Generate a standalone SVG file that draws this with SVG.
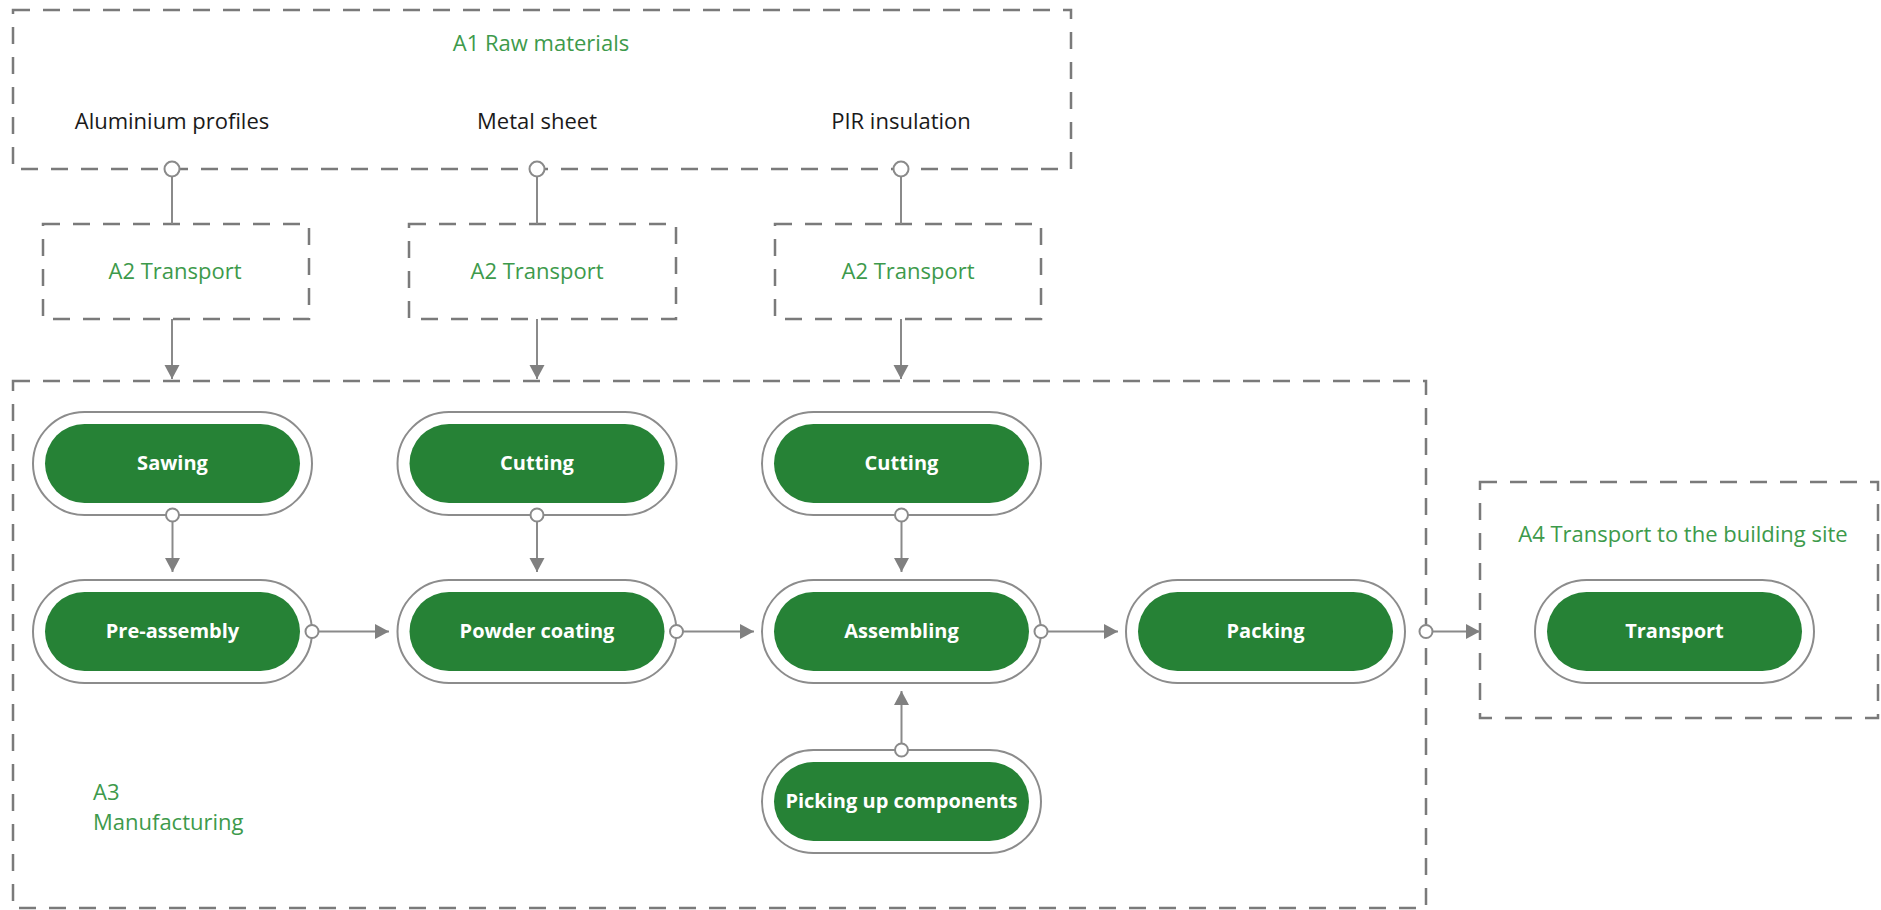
<svg xmlns="http://www.w3.org/2000/svg" width="1881" height="910" viewBox="0 0 1881 910">
<defs>
<style>
.frame{fill:none;stroke:#7a7a7a;stroke-width:2.5;stroke-dasharray:17 13}
.outer{fill:#fff;stroke:#8c8c8c;stroke-width:2}
.inner{fill:#268236}
.ntext{font-family:"Open Sans","Liberation Sans",sans-serif;font-weight:700;font-size:20px;fill:#fff;text-anchor:middle}
.gtext{font-family:"Open Sans","Liberation Sans",sans-serif;font-size:22px;fill:#3d9a4b}
.btext{font-family:"Open Sans","Liberation Sans",sans-serif;font-size:22px;fill:#1a1a1a;text-anchor:middle}
.conn{fill:none;stroke:#8a8a8a;stroke-width:2}
.port{fill:#fff;stroke:#8a8a8a;stroke-width:2}
</style>
<marker id="arr" markerUnits="userSpaceOnUse" markerWidth="16" markerHeight="16" refX="14" refY="7.5" orient="auto">
<path d="M0,0 L14,7.5 L0,15 z" fill="#808080"/>
</marker>
</defs>
<rect width="1881" height="910" fill="#fff"/>

<g id="A1">
<rect class="frame" x="13" y="10" width="1058" height="159"/>
<text class="gtext" x="541" y="51" text-anchor="middle">A1 Raw materials</text>
<text class="btext" x="172" y="129">Aluminium profiles</text>
<text class="btext" x="537" y="129">Metal sheet</text>
<text class="btext" x="901" y="129">PIR insulation</text>
</g>

<g id="A2-1">
<rect class="frame" x="43" y="224" width="266" height="95"/>
<text class="gtext" x="175" y="279" text-anchor="middle">A2 Transport</text>
</g>
<g id="A2-2">
<rect class="frame" x="409" y="224" width="267" height="95"/>
<text class="gtext" x="537" y="279" text-anchor="middle">A2 Transport</text>
</g>
<g id="A2-3">
<rect class="frame" x="775" y="224" width="266" height="95"/>
<text class="gtext" x="908" y="279" text-anchor="middle">A2 Transport</text>
</g>

<g id="A3">
<rect class="frame" x="13" y="381" width="1413" height="527"/>
<text class="gtext" x="93" y="800">A3</text>
<text class="gtext" x="93" y="830">Manufacturing</text>
</g>

<g id="A4">
<rect class="frame" x="1480" y="482" width="398" height="236"/>
<text class="gtext" x="1683" y="542" text-anchor="middle">A4 Transport to the building site</text>
</g>

<g id="sawing">
<rect class="outer" x="33" y="412" width="279" height="103" rx="51.5"/>
<rect class="inner" x="45" y="424" width="255" height="79" rx="39.5"/>
<text class="ntext" x="172.5" y="470">Sawing</text>
</g>
<g id="cutting1">
<rect class="outer" x="397.5" y="412" width="279" height="103" rx="51.5"/>
<rect class="inner" x="409.5" y="424" width="255" height="79" rx="39.5"/>
<text class="ntext" x="537" y="470">Cutting</text>
</g>
<g id="cutting2">
<rect class="outer" x="762" y="412" width="279" height="103" rx="51.5"/>
<rect class="inner" x="774" y="424" width="255" height="79" rx="39.5"/>
<text class="ntext" x="901.5" y="470">Cutting</text>
</g>
<g id="preassembly">
<rect class="outer" x="33" y="580" width="279" height="103" rx="51.5"/>
<rect class="inner" x="45" y="592" width="255" height="79" rx="39.5"/>
<text class="ntext" x="172.5" y="638">Pre-assembly</text>
</g>
<g id="powdercoating">
<rect class="outer" x="397.5" y="580" width="279" height="103" rx="51.5"/>
<rect class="inner" x="409.5" y="592" width="255" height="79" rx="39.5"/>
<text class="ntext" x="537" y="638">Powder coating</text>
</g>
<g id="assembling">
<rect class="outer" x="762" y="580" width="279" height="103" rx="51.5"/>
<rect class="inner" x="774" y="592" width="255" height="79" rx="39.5"/>
<text class="ntext" x="901.5" y="638">Assembling</text>
</g>
<g id="packing">
<rect class="outer" x="1126" y="580" width="279" height="103" rx="51.5"/>
<rect class="inner" x="1138" y="592" width="255" height="79" rx="39.5"/>
<text class="ntext" x="1265.5" y="638">Packing</text>
</g>
<g id="picking">
<rect class="outer" x="762" y="750" width="279" height="103" rx="51.5"/>
<rect class="inner" x="774" y="762" width="255" height="79" rx="39.5"/>
<text class="ntext" x="901.5" y="808">Picking up components</text>
</g>
<g id="transport">
<rect class="outer" x="1535" y="580" width="279" height="103" rx="51.5"/>
<rect class="inner" x="1547" y="592" width="255" height="79" rx="39.5"/>
<text class="ntext" x="1674.5" y="638">Transport</text>
</g>

<g id="connectors">
<path class="conn" d="M172,169 V224"/>
<path class="conn" d="M537,169 V224"/>
<path class="conn" d="M901,169 V224"/>
<circle class="port" cx="172" cy="169" r="7.5"/>
<circle class="port" cx="537" cy="169" r="7.5"/>
<circle class="port" cx="901" cy="169" r="7.5"/>
<path class="conn" d="M172,319 V379" marker-end="url(#arr)"/>
<path class="conn" d="M537,319 V379" marker-end="url(#arr)"/>
<path class="conn" d="M901,319 V379" marker-end="url(#arr)"/>
<path class="conn" d="M172.5,521 V572" marker-end="url(#arr)"/>
<path class="conn" d="M537,521 V572" marker-end="url(#arr)"/>
<path class="conn" d="M901.5,521 V572" marker-end="url(#arr)"/>
<circle class="port" cx="172.5" cy="515" r="6.5"/>
<circle class="port" cx="537" cy="515" r="6.5"/>
<circle class="port" cx="901.5" cy="515" r="6.5"/>
<path class="conn" d="M318,631.5 H389" marker-end="url(#arr)"/>
<path class="conn" d="M683,631.5 H754" marker-end="url(#arr)"/>
<path class="conn" d="M1047,631.5 H1118" marker-end="url(#arr)"/>
<path class="conn" d="M1432,631.5 H1480" marker-end="url(#arr)"/>
<circle class="port" cx="312" cy="631.5" r="6.5"/>
<circle class="port" cx="676.5" cy="631.5" r="6.5"/>
<circle class="port" cx="1041" cy="631.5" r="6.5"/>
<circle class="port" cx="1426" cy="631.5" r="6.5"/>
<path class="conn" d="M901.5,744 V691" marker-end="url(#arr)"/>
<circle class="port" cx="901.5" cy="750" r="6.5"/>
</g>
</svg>
